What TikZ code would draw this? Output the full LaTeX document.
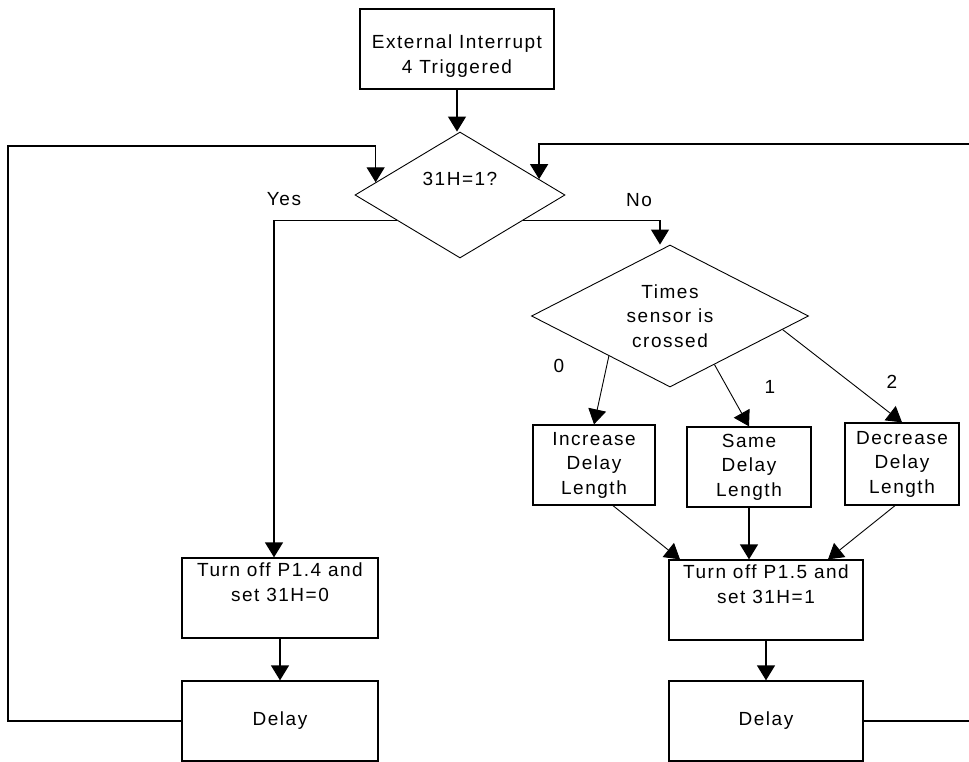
\documentclass[tikz,border=0pt]{standalone}
\usepackage{fontspec}
\setmainfont{Liberation Sans}[LetterSpace=8]
\usetikzlibrary{arrows.meta,shapes.geometric,calc}
\begin{document}
\begin{tikzpicture}[x=1pt,y=-1pt,
  every node/.style={font=\fontsize{19}{24.5}\selectfont},
  box/.style={draw,line width=1.3pt,rectangle,inner sep=0pt,align=center},
  dia/.style={draw,line width=0.9pt,diamond,inner sep=0pt,align=center},
  flow/.style={line width=1.3pt,-{Triangle[length=15pt,width=18pt]}},
  slant/.style={line width=0.9pt,-{Triangle[length=15pt,width=18pt]}},
  tag/.style={inner sep=0pt}]
\useasboundingbox (0,0) rectangle (969,762);
\clip (0,0) rectangle (969,762);

% process boxes and decisions
\node[box,minimum width=194pt,minimum height=80pt] (top) at (457,49) {\strut\\[-14pt]External Interrupt\\4 Triggered};
\node[dia,minimum width=210pt,minimum height=126pt,aspect=1.67] (d1) at (460,195) {31H=1?\\\strut};
\node[dia,minimum width=277pt,minimum height=142pt,aspect=1.95] (d2) at (670,316) {Times\\sensor is\\crossed};
\node[box,minimum width=122pt,minimum height=80pt] (inc) at (594,465) {Increase\\Delay\\Length};
\node[box,minimum width=124pt,minimum height=80pt] (same) at (749,467) {Same\\Delay\\Length};
\node[box,minimum width=114pt,minimum height=82pt] (dec) at (902,464) {Decrease\\Delay\\Length};
\node[box,minimum width=196pt,minimum height=80pt] (p14) at (280,598) {Turn off P1.4 and\\set 31H=0\\\strut};
\node[box,minimum width=194pt,minimum height=80pt] (p15) at (766,600) {Turn off P1.5 and\\set 31H=1\\\strut};
\node[box,minimum width=196pt,minimum height=80pt] (dl) at (280,721) {Delay};
\node[box,minimum width=194pt,minimum height=80pt] (dr) at (766,721) {Delay};

% branch labels
\node[tag] (yes) at (284,199) {Yes};
\node[tag] (no) at (639,200) {No};
\node[tag] (c0) at (559,366) {0};
\node[tag] (c1) at (770,387) {1};
\node[tag] (c2) at (892,382) {2};

% loop corners
\coordinate (lc) at (8,146);
\coordinate (rc) at (990,144);
\coordinate (inL) at ($(d1.west)!0.2!(d1.north)$);
\coordinate (inR) at ($(d1.east)!0.25!(d1.north)$);

% connectors
\draw[flow] (top.south) -- (top.south |- d1.north);
\draw[flow] ($(d1.west)!0.4!(d1.south)$) -| ([xshift=-6pt]p14.north);
\draw[flow] ($(d1.east)!0.4!(d1.south)$) -| ([xshift=-10pt]d2.north);
\draw[slant] ($(d2.west)!0.56!(d2.south)$) -- (inc.north);
\draw[slant] ($(d2.east)!0.68!(d2.south)$) -- (same.north);
\draw[slant] ($(d2.east)!0.19!(d2.south)$) -- (dec.north);
\draw[slant] ([xshift=19pt]inc.south) -- ([xshift=-86pt]p15.north);
\draw[flow] (same.south) -- (same.south |- p15.north);
\draw[slant] ([xshift=-7pt]dec.south) -- ([xshift=62pt]p15.north);
\draw[flow] (p14) -- (dl);
\draw[flow] (p15) -- (dr);
\draw[flow] (dl.west) -| (lc) -| (inL);
\draw[flow] (dr.east) -| (rc) -| (inR);
\end{tikzpicture}
\end{document}
